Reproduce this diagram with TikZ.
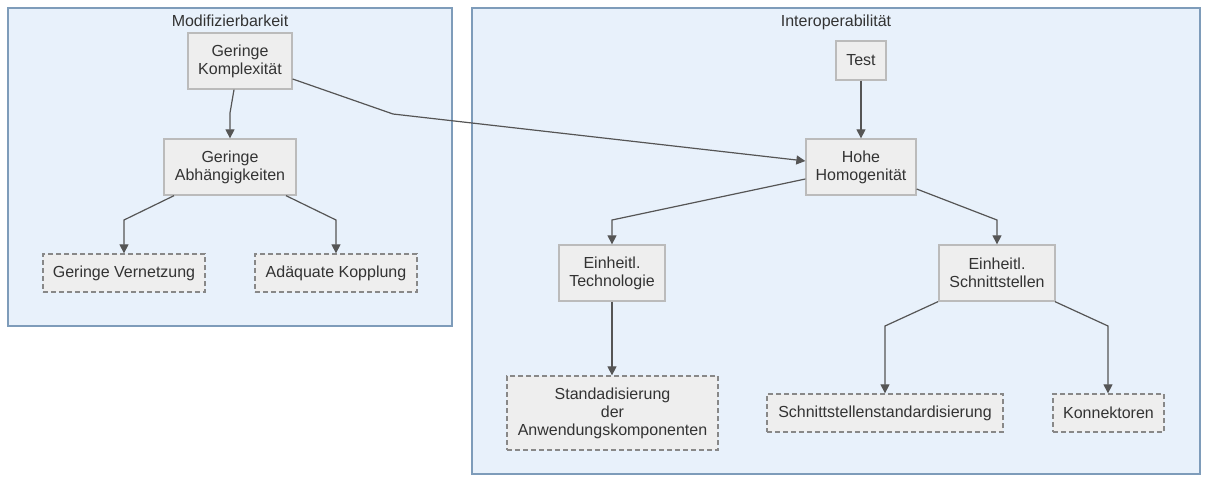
\documentclass[tikz,border=0pt]{standalone}
\usepackage{fontspec}
\setmainfont{Liberation Sans}
\usetikzlibrary{arrows.meta}
\definecolor{clfill}{HTML}{E8F1FB}
\definecolor{cldraw}{HTML}{7E9CBA}
\definecolor{ndfill}{HTML}{EEEEEE}
\definecolor{nddraw}{HTML}{BBBBBB}
\definecolor{dsdraw}{HTML}{888888}
\definecolor{txt}{HTML}{333333}
\definecolor{edge}{HTML}{555555}
\tikzset{
  cluster/.style={draw=cldraw, fill=clfill, line width=1.3pt},
  cltitle/.style={text=txt, font=\fontsize{16}{18}\selectfont, inner sep=0pt, anchor=base},
  box/.style={draw=nddraw, fill=ndfill, line width=1.3pt, text=txt, align=center,
    inner sep=0pt, font=\fontsize{16}{18}\selectfont},
  dbox/.style={box, draw=dsdraw, dash pattern=on 5pt off 3pt},
  conn/.style={draw=edge, line width=1.2pt, -{Triangle[length=9pt,width=9pt]}},
}
\begin{document}
\begin{tikzpicture}[x=1pt,y=-1pt]
\useasboundingbox (0,0) rectangle (1208,483);
% clusters
\draw[cluster] (8,8) rectangle (452,326);
\draw[cluster] (472,8) rectangle (1200,474);
\node[cltitle] (t1) at (230,26.5) {Modifizierbarkeit};
\node[cltitle] (t2) at (836,26.5) {Interoperabilität};
% left nodes
\node[box, minimum width=104pt, minimum height=56pt] (gk) at (240,61) {Geringe\\Komplexität};
\node[box, minimum width=132pt, minimum height=56pt] (ga) at (230,167) {Geringe\\Abhängigkeiten};
\node[dbox, minimum width=162pt, minimum height=38pt] (gv) at (124,273) {Geringe Vernetzung};
\node[dbox, minimum width=162pt, minimum height=38pt] (ak) at (336,273) {Adäquate Kopplung};
% right nodes
\node[box, minimum width=50pt, minimum height=39pt] (te) at (861,60.5) {Test};
\node[box, minimum width=110pt, minimum height=56pt] (hh) at (861,167) {Hohe\\Homogenität};
\node[box, minimum width=106pt, minimum height=56pt] (et) at (612,273) {Einheitl.\\Technologie};
\node[box, minimum width=116pt, minimum height=56pt] (es) at (997,273) {Einheitl.\\Schnittstellen};
\node[dbox, minimum width=211pt, minimum height=74pt] (sa) at (612.5,413) {Standadisierung\\der\\Anwendungskomponenten};
\node[dbox, minimum width=236pt, minimum height=38pt] (ss) at (885,413) {Schnittstellenstandardisierung};
\node[dbox, minimum width=111pt, minimum height=38pt] (ko) at (1108.5,413) {Konnektoren};
% bend points
\coordinate (b1) at (230,113);
\coordinate (b2) at (124,220);
\coordinate (b3) at (336,220);
\coordinate (b4) at (393,114);
\coordinate (b5) at (612,220);
\coordinate (b6) at (997,220);
\coordinate (b7) at (885,326);
\coordinate (b8) at (1108,326);
% edges
\draw[conn] (gk.south -| 234,0) -- (b1) -- (ga.north -| b1);
\draw[conn] (ga.south -| 174,0) -- (b2) -- (gv.north);
\draw[conn] (ga.south -| 286,0) -- (b3) -- (ak.north);
\draw[conn] (gk.east |- 0,79) -- (b4) -- (hh.west |- 0,161);
\draw[conn] (te.south) -- (hh.north);
\draw[conn] (hh.west |- 0,179) -- (b5) -- (et.north);
\draw[conn] (hh.east |- 0,189) -- (b6) -- (es.north);
\draw[conn] (et.south -| b5) -- (sa.north -| b5);
\draw[conn] (es.south -| 938,0) -- (b7) -- (ss.north);
\draw[conn] (es.south -| 1055,0) -- (b8) -- (ko.north -| b8);
\end{tikzpicture}
\end{document}
